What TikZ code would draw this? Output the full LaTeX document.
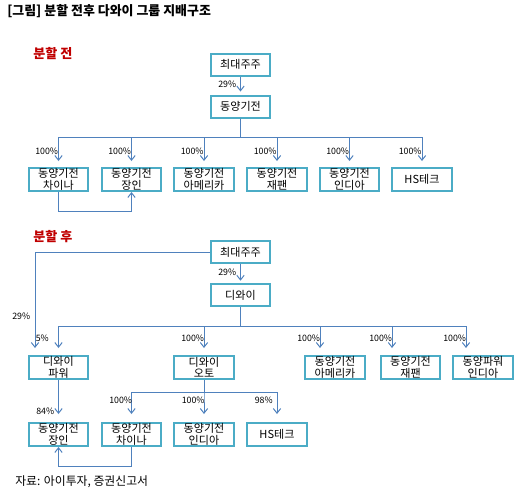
\documentclass[tikz,border=0pt]{standalone}
\usepackage{fontspec}
\setmainfont{Noto Sans CJK KR}
\usetikzlibrary{arrows.meta,calc}
\definecolor{boxc}{HTML}{4BACC6}
\definecolor{linec}{HTML}{4F81BD}
\definecolor{redc}{HTML}{C00000}
\begin{document}
\begin{tikzpicture}[x=0.75pt,y=-0.75pt,
  bx/.style={draw=boxc, line width=1.5pt, fill=white, minimum width=44.7pt, minimum height=17.25pt, inner sep=0pt, align=center, font=\fontsize{8.3}{8.8}\selectfont},
  topbx/.style={bx, minimum height=16.5pt},
  arr/.style={draw=linec, line width=0.75pt, -{Straight Barb[length=3.5pt,width=5.5pt]}},
  pct/.style={inner sep=0pt, anchor=west, font=\fontsize{6.6}{7}\selectfont},
  sect/.style={inner sep=0pt, anchor=west, text=redc, font=\fontsize{9.8}{10}\selectfont\bfseries},
]
\useasboundingbox (0,0) rectangle (522,493);

% title
\node[inner sep=0pt, anchor=west, font=\fontsize{9.7}{10}\selectfont\bfseries] (title) at (7,11) {[그림] 분할 전후 다와이 그룹 지배구조};

% ---------- before ----------
\node[sect] (sb) at (33,54) {분할 전};
\node[topbx] (bmaj) at (240.5,64.5) {최대주주};
\node[topbx] (bdy) at (240.5,106.5) {동양기전};
\node[bx] (bc1) at (58.5,179.5) {동양기전\\차이나};
\node[bx] (bc2) at (131.5,179.5) {동양기전\\장인};
\node[bx] (bc3) at (204,179.5) {동양기전\\아메리카};
\node[bx] (bc4) at (277,179.5) {동양기전\\재팬};
\node[bx] (bc5) at (349.5,179.5) {동양기전\\인디아};
\node[bx] (bc6) at (422,179.5) {HS테크};

\draw[arr, shorten >=2.25pt] (bmaj.south) -- (bdy.north);
\node[pct] (pb0) at ($(bdy.north)+(-22.5,-10)$) {29\%};

\coordinate (bbar) at (240.5,137);
\foreach \n in {bc1,bc2,bc3,bc4,bc5,bc6}{
  \draw[arr, shorten >=4.5pt] (bdy.south) -- (bdy.south |- bbar) -| (\n.north);
  \node[pct] at ($(\n.north)+(-23.5,-16)$) {100\%};
}
\draw[arr] (bc1.south) -- ++(0,19) -| (bc2.south);

% ---------- after ----------
\node[sect] (sa) at (33,237) {분할 후};
\node[topbx] (amaj) at (240.5,252) {최대주주};
\node[topbx] (ady) at (240.5,295) {디와이};

\node[bx] (ap) at (58.5,367.5) {디와이\\파워};
\node[bx] (ao) at (204,367.5) {디와이\\오토};
\node[bx] (aam) at (335,367.5) {동양기전\\아메리카};
\node[bx] (ajp) at (410.5,367.5) {동양기전\\재팬};
\node[bx] (ain) at (483,367.5) {동양파워\\인디아};

\node[bx] (aj) at (58.5,434.5) {동양기전\\장인};
\node[bx] (ac) at (131.5,434.5) {동양기전\\차이나};
\node[bx] (ai) at (204,434.5) {동양기전\\인디아};
\node[bx] (ahs) at (277,434.5) {HS테크};

\draw[arr, shorten >=1.7pt] (amaj.south) -- (ady.north);
\node[pct] at ($(ady.north)+(-22.5,-10.7)$) {29\%};

\draw[arr, shorten >=5.25pt] (amaj.west) -| ($(ap.north)+(-23.5,0)$);
\node[pct] at (12,316) {29\%};

\coordinate (abar) at (240.5,326);
\coordinate (tp) at (ap.north);
\coordinate (to) at (ao.north);
\coordinate (tam) at ($(aam.north)+(-15,0)$);
\coordinate (tjp) at ($(ajp.north)+(-18.5,0)$);
\coordinate (tin) at ($(ain.north)+(-17,0)$);
\foreach \t/\lab in {tp/5\%,to/100\%,tam/100\%,tjp/100\%,tin/100\%}{
  \draw[arr, shorten >=5.25pt] (ady.south) -- (ady.south |- abar) -| (\t);
  \node[pct] at ($(\t)+(-23,-17)$) {\lab};
}

\draw[arr, shorten >=6pt] (ap.south) -- (aj.north);
\node[pct] at ($(aj.north)+(-22.5,-11)$) {84\%};

\coordinate (obar) at (204,392);
\foreach \n/\lab in {ac/100\%,ai/100\%,ahs/98\%}{
  \draw[arr, shorten >=6pt] (ao.south) -- (ao.south |- obar) -| (\n.north);
  \node[pct] at ($(\n.north)+(-22.5,-22)$) {\lab};
}
\draw[arr] (ac.south) -- ++(0,19) -| (aj.south);

% source
\node[inner sep=0pt, anchor=west, font=\fontsize{8.9}{9}\selectfont] (src) at (15,482) {자료: 아이투자, 증권신고서};
\end{tikzpicture}
\end{document}
